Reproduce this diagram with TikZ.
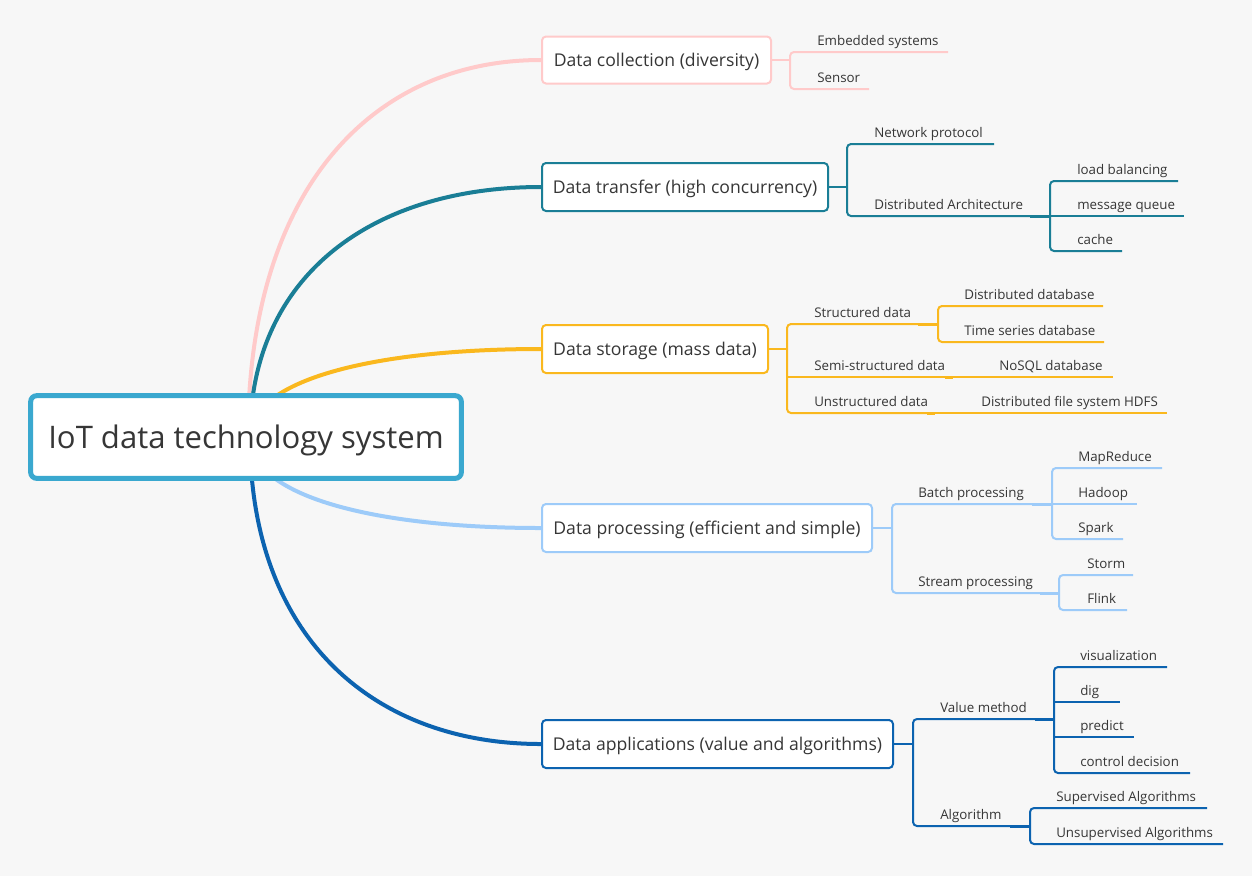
\documentclass[tikz,border=0pt]{standalone}
\usepackage{fontspec}
\setmainfont{Open Sans}
\definecolor{bgc}{HTML}{F7F7F7}
\definecolor{txt}{HTML}{363636}
\definecolor{rootc}{HTML}{3AA8CF}
\definecolor{pinkc}{HTML}{FFCACA}
\definecolor{tealc}{HTML}{1A7E96}
\definecolor{yellowc}{HTML}{FAB81E}
\definecolor{lbluec}{HTML}{9DCBF9}
\definecolor{dbluec}{HTML}{0C63B0}
\newcommand\leaf[5]{%
  \node[leaf] (#1) at (#2,#3-7) {#5};
  \coordinate (#1-e) at (#4,#3);}
\begin{document}
\begin{tikzpicture}[x=0.75pt,y=-0.75pt,
  mainline/.style={line width=3pt},
  subline/.style={line width=1.5pt,rounded corners=3pt},
  junc/.style={line width=2.25pt},
  lvl/.style={draw,line width=1.5pt,fill=white,rounded corners=3pt,inner sep=0pt,
    text=txt,font=\fontsize{13.2}{15}\selectfont,text height=9.5pt,text depth=0pt},
  leaf/.style={anchor=base west,inner sep=0pt,text=txt,font=\fontsize{10}{12}\selectfont},
  rootbox/.style={draw=rootc,line width=3.75pt,fill=white,rounded corners=4.5pt,inner sep=0pt,
    text=txt,font=\fontsize{23.3}{27}\selectfont,text height=16.8pt,text depth=0pt,
    minimum width=323pt,minimum height=62pt}]
\fill[bgc] (0,0) rectangle (1252,876);
\useasboundingbox (0,0) rectangle (1252,876);

% level-1 boxes
\node[lvl,draw=pinkc,minimum width=171.75pt,minimum height=35.25pt] (b1) at (656.5,60) {Data collection (diversity)};
\node[lvl,draw=tealc,minimum width=214.5pt,minimum height=36pt] (b2) at (685,187) {Data transfer (high concurrency)};
\node[lvl,draw=yellowc,minimum width=169.5pt,minimum height=36pt] (b3) at (655,349) {Data storage (mass data)};
\node[lvl,draw=lbluec,minimum width=247.5pt,minimum height=36pt] (b4) at (707,528) {Data processing (efficient and simple)};
\node[lvl,draw=dbluec,minimum width=263.25pt,minimum height=36pt] (b5) at (717.5,744) {Data applications (value and algorithms)};

% main curves
\coordinate (rc) at (250,437);
\draw[mainline,pinkc] (248,437) .. controls (248,192) and (370,60) .. (b1.west);
\draw[mainline,tealc] (rc) .. controls (250,275) and (373,187) .. (b2.west);
\draw[mainline,yellowc] (rc) .. controls (250,380) and (373,349) .. (b3.west);
\draw[mainline,lbluec] (rc) .. controls (250,496) and (373,528) .. (b4.west);
\draw[mainline,dbluec] (rc) .. controls (250,637) and (373,744) .. (b5.west);

% root
\node[rootbox] (root) at (246,437) {IoT data technology system};

% ---------- collection
\leaf{c1}{817}{52}{948}{Embedded systems}
\leaf{c2}{817}{89}{869}{Sensor}
\draw[subline,pinkc] (b1.east) -- (790,60);
\draw[subline,pinkc] (c1-e) -- (790,52) -- (790,89) -- (c2-e);

% ---------- transfer
\leaf{t1}{874}{144}{994}{Network protocol}
\leaf{t2}{874}{216}{1030}{Distributed Architecture}
\leaf{t21}{1077}{181}{1178}{load balancing}
\leaf{t22}{1077}{216}{1184}{message queue}
\leaf{t23}{1077}{251}{1122}{cache}
\draw[subline,tealc] (b2.east) -- (847,187);
\draw[subline,tealc] (t1-e) -- (847,144) -- (847,216) -- (t2-e);
\draw[junc,tealc] (t2-e) -- (1050,216);
\draw[subline,tealc] (t21-e) -- (1050,181) -- (1050,251) -- (t23-e);
\draw[subline,tealc] (1050,216) -- (t22-e);

% ---------- storage
\leaf{s1}{814}{324}{918}{Structured data}
\leaf{s11}{964}{306}{1103}{Distributed database}
\leaf{s12}{964}{342}{1104}{Time series database}
\leaf{s2}{814}{377}{945}{Semi-structured data}
\leaf{s21}{999}{377}{1113}{NoSQL database}
\leaf{s3}{814}{413}{927}{Unstructured data}
\leaf{s31}{981}{413}{1167}{Distributed file system HDFS}
\draw[subline,yellowc] (b3.east) -- (787,349);
\draw[subline,yellowc] (s1-e) -- (787,324) -- (787,413) -- (s3-e);
\draw[subline,yellowc] (787,377) -- (s2-e);
\draw[junc,yellowc] (s1-e) -- (938,324);
\draw[subline,yellowc] (s11-e) -- (938,306) -- (938,342) -- (s12-e);
\draw[junc,yellowc] (s2-e) -- (953,377);
\draw[subline,yellowc] (953,377) -- (s21-e);
\draw[junc,yellowc] (s3-e) -- (935,413);
\draw[subline,yellowc] (935,413) -- (s31-e);

% ---------- processing
\leaf{p1}{918}{504}{1032}{Batch processing}
\leaf{p11}{1078}{468}{1162}{MapReduce}
\leaf{p12}{1078}{504}{1137}{Hadoop}
\leaf{p13}{1078}{539}{1123}{Spark}
\leaf{p2}{918}{593}{1040}{Stream processing}
\leaf{p21}{1087}{575}{1133}{Storm}
\leaf{p22}{1087}{610}{1127}{Flink}
\draw[subline,lbluec] (b4.east) -- (892,528);
\draw[subline,lbluec] (p1-e) -- (892,504) -- (892,593) -- (p2-e);
\draw[junc,lbluec] (p1-e) -- (1052,504);
\draw[subline,lbluec] (p11-e) -- (1052,468) -- (1052,539) -- (p13-e);
\draw[subline,lbluec] (1052,504) -- (p12-e);
\draw[junc,lbluec] (p2-e) -- (1059,593);
\draw[subline,lbluec] (p21-e) -- (1059,575) -- (1059,610) -- (p22-e);

% ---------- applications
\leaf{a1}{940}{719}{1035}{Value method}
\leaf{a11}{1080}{667}{1167}{visualization}
\leaf{a12}{1080}{702}{1120}{dig}
\leaf{a13}{1080}{737}{1134}{predict}
\leaf{a14}{1080}{773}{1190}{control decision}
\leaf{a2}{940}{826}{1010}{Algorithm}
\leaf{a21}{1056}{808}{1207}{Supervised Algorithms}
\leaf{a22}{1056}{844}{1223}{Unsupervised Algorithms}
\draw[subline,dbluec] (b5.east) -- (913,744);
\draw[subline,dbluec] (a1-e) -- (913,719) -- (913,826) -- (a2-e);
\draw[junc,dbluec] (a1-e) -- (1054,719);
\draw[subline,dbluec] (a11-e) -- (1054,667) -- (1054,773) -- (a14-e);
\draw[subline,dbluec] (1054,702) -- (a12-e);
\draw[subline,dbluec] (1054,737) -- (a13-e);
\draw[junc,dbluec] (a2-e) -- (1030,826);
\draw[subline,dbluec] (a21-e) -- (1030,808) -- (1030,844) -- (a22-e);
\end{tikzpicture}
\end{document}
